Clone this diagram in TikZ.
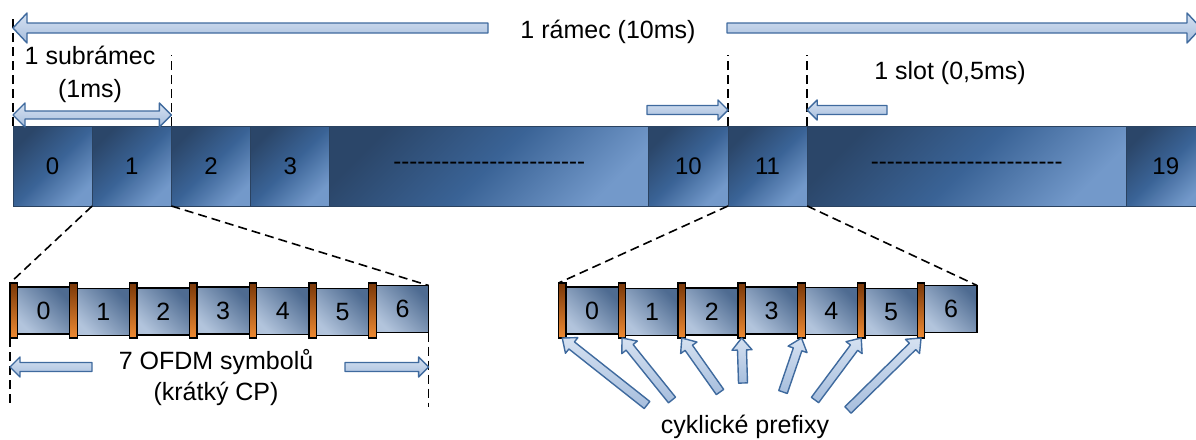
\documentclass[tikz,border=0pt]{standalone}
\usepackage{fontspec}
\setmainfont{Liberation Sans}
\usetikzlibrary{calc,positioning}
\definecolor{cellDark}{HTML}{2B4669}
\definecolor{cellMid}{HTML}{3A6396}
\definecolor{cellLight}{HTML}{7399CA}
\definecolor{cellEdge}{HTML}{2A4260}
\definecolor{symDark}{HTML}{4E6B91}
\definecolor{symLight}{HTML}{B2C4DC}
\definecolor{cpDark}{HTML}{7A3808}
\definecolor{cpLight}{HTML}{EE8A33}
\definecolor{arrEdge}{HTML}{3F6A9E}
\definecolor{arrTop}{HTML}{D5E1F1}
\definecolor{arrBottom}{HTML}{A7BEDD}
\newcommand\hyphenrow[1]{\foreach\k in {1,...,#1}{-\kern0pt}}
% tail, tip, half shaft, half head, head length
\newcommand\blockarrow[5]{%
  \path ($(#2)!#5!(#1)$) coordinate (hb);
  \draw[arrowbox] ($(#1)!#3!90:(#2)$) -- ($(hb)!#3!-90:(#1)$) -- ($(hb)!#4!-90:(#1)$) -- (#2)
    -- ($(hb)!#4!90:(#1)$) -- ($(hb)!#3!90:(#1)$) -- ($(#1)!#3!-90:(#2)$) -- cycle;}
\newcommand\dblarrow[5]{%
  \path ($(#1)!#5!(#2)$) coordinate (ha) ($(#2)!#5!(#1)$) coordinate (hb);
  \draw[arrowbox] (#1) -- ($(ha)!#4!90:(#2)$) -- ($(ha)!#3!90:(#2)$)
    -- ($(hb)!#3!-90:(#1)$) -- ($(hb)!#4!-90:(#1)$) -- (#2)
    -- ($(hb)!#4!90:(#1)$) -- ($(hb)!#3!90:(#1)$)
    -- ($(ha)!#3!-90:(#2)$) -- ($(ha)!#4!-90:(#2)$) -- cycle;}

\begin{document}
\begin{tikzpicture}[x=1pt,y=-1pt,font=\fontsize{25}{30}\selectfont,
  cell/.style={draw=cellEdge,line width=.8pt,top color=cellDark,bottom color=cellLight,middle color=cellMid,shading angle=45,
    minimum height=80pt,minimum width=79.2pt,inner sep=0pt,outer sep=0pt,font=\fontsize{24}{28}\selectfont},
  symb/.style={draw=black,line width=1.3pt,top color=symDark,bottom color=symLight,shading angle=-45,
    minimum height=47pt,minimum width=52.3pt,inner sep=0pt,outer sep=0pt,font=\fontsize{25}{28}\selectfont},
  cp/.style={draw=black,line width=1.3pt,top color=cpDark,bottom color=cpLight,minimum height=55pt,minimum width=7.5pt,inner sep=0pt,outer sep=0pt},
  arrowbox/.style={draw=arrEdge,line width=1.4pt,line join=round,top color=arrTop,bottom color=arrBottom},
  guide/.style={black,line width=1.6pt,dash pattern=on 9pt off 5pt}]
\useasboundingbox (0,0) rectangle (1196,439);
% radio frame
\node[cell] (f0) at (52.6,166) {0};
\foreach \n/\prev/\t in {f1/f0/1,f2/f1/2,f3/f2/3}
  \node[cell,right=0pt of \prev] (\n) {\t};
\node[cell,minimum width=319pt,right=0pt of f3] (fa) {\hyphenrow{24}};
\node[cell,right=0pt of fa] (f10) {10};
\node[cell,right=0pt of f10] (f11) {11};
\node[cell,minimum width=319pt,right=0pt of f11] (fb) {\hyphenrow{24}};
\node[cell,right=0pt of fb] (f19) {19};
% OFDM symbols with cyclic prefix
\foreach \g/\x in {l/10,r/558.5}{
  \foreach \i/\dy in {0/0,1/-1.5,2/-1,3/0,4/-0.5,5/-1.5,6/1.5}{
    \node[symb] (\g s\i) at (\x+7.5+\i*59.8+26.15,310.5) [yshift=\dy pt] {\i};
    \node[cp,anchor=east] (\g cp\i) at (\g s\i.west |- 0,310.5) {};
  }
}
\draw[guide] (f1.south west) -- (lcp0.north west);
\draw[guide] (f2.south west) -- (ls6.north east);
\draw[guide] (f11.south west) -- (rcp0.north west);
\draw[guide] (fb.south west) -- (rs6.north east);
\foreach \c/\n in {f0/15,f2/55,f11/55,fb/55}
  \draw[guide] (\c.north west) -- (\c.north west |- 0,\n);
\draw[guide] (lcp0.south west) -- (lcp0.south west |- 0,407);
\draw[guide] (ls6.south east) -- (ls6.south east |- 0,407);
% arrows
\coordinate (frameL) at (488,28);
\coordinate (frameLtip) at (f0.north west |- 0,28);
\coordinate (frameR) at (727,28);
\coordinate (frameRtip) at (1201,28);
\blockarrow{frameL}{frameLtip}{5pt}{15pt}{14pt}
\blockarrow{frameR}{frameRtip}{5pt}{15pt}{14pt}
\coordinate (subL) at (f0.north west |- 0,115);
\coordinate (subR) at (f2.north west |- 0,115);
\dblarrow{subL}{subR}{4pt}{12pt}{12pt}
\coordinate (slotA) at (647,110);
\coordinate (slotAtip) at (f11.north west |- 0,110);
\coordinate (slotB) at (887,110);
\coordinate (slotBtip) at (fb.north west |- 0,110);
\blockarrow{slotA}{slotAtip}{4.5pt}{10pt}{10pt}
\blockarrow{slotB}{slotBtip}{4.5pt}{10pt}{10pt}
\coordinate (symL) at (92,367);
\coordinate (symLtip) at (lcp0.west |- 0,367);
\coordinate (symR) at (345,367);
\coordinate (symRtip) at (ls6.east |- 0,367);
\blockarrow{symL}{symLtip}{4.5pt}{10pt}{10pt}
\blockarrow{symR}{symRtip}{4.5pt}{10pt}{10pt}
\foreach \i/\tx/\ty in {0/647/405,1/672/400,2/720/392,3/743/383,4/783/392,5/815/400,6/848/410}{
  \coordinate (pre\i) at (\tx,\ty);
  \blockarrow{pre\i}{rcp\i.south}{4.5pt}{10pt}{12pt}
}
% labels
\node (frame) at (608,32) {1 rámec (10ms)};
\node[align=center,font=\fontsize{25}{33}\selectfont] (sub) at (90,74) {1 subrámec\\(1ms)};
\node (slot) at (950,73) {1 slot (0,5ms)};
\node[align=center,font=\fontsize{25}{31}\selectfont] (ofdm) at (216,378) {7 OFDM symbolů\\(krátký CP)};
\node (prefix) at (745,427) {cyklické prefixy};
\end{tikzpicture}
\end{document}
